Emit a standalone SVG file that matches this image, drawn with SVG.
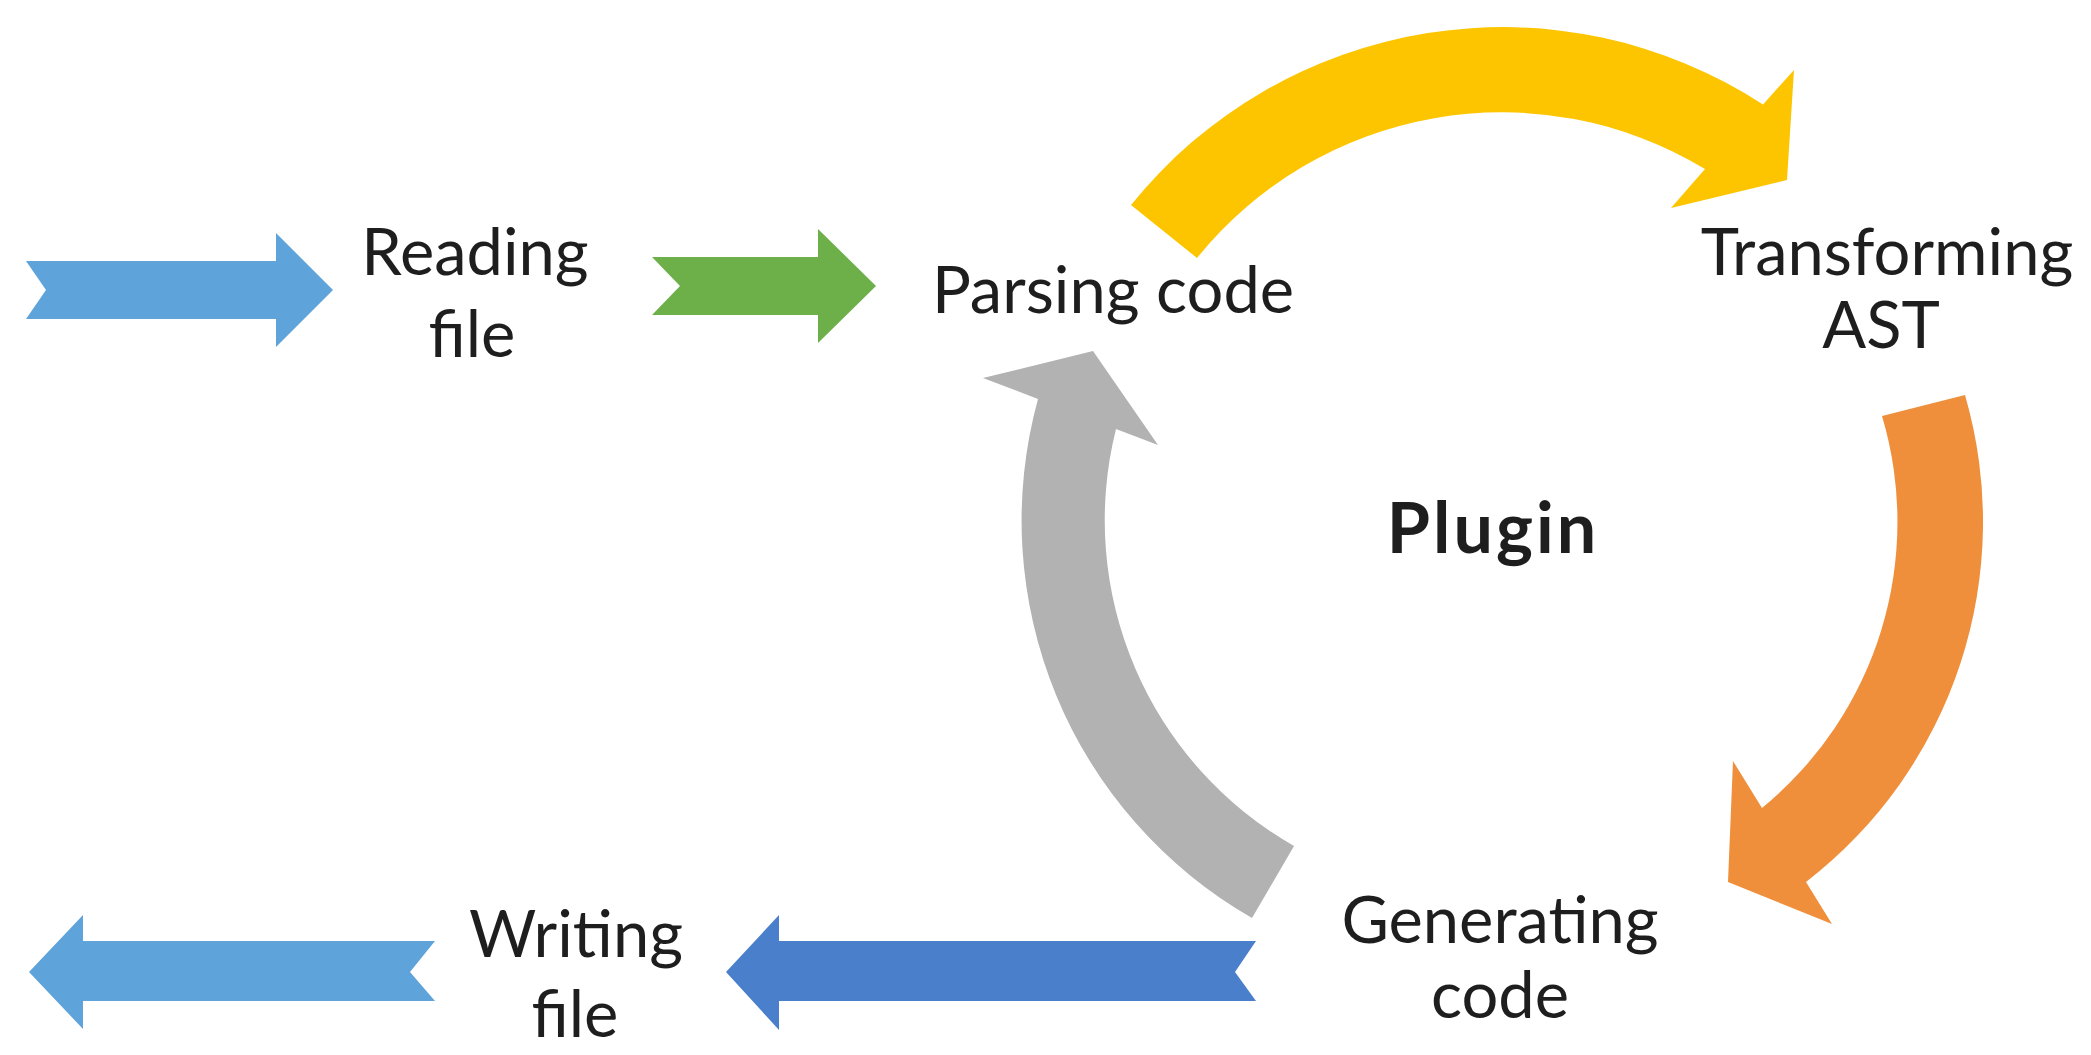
<svg xmlns="http://www.w3.org/2000/svg" width="2091" height="1055" viewBox="0 0 2091 1055">
<style>
text{font-family:Lato,"Liberation Sans",sans-serif;font-size:65px;fill:#1e1e1e;text-anchor:middle}
.b{font-weight:bold;font-size:70px;letter-spacing:3px}
</style>
<rect width="2091" height="1055" fill="#ffffff"/>
<g id="connectors">
<polygon id="in-arrow" fill="#5FA3DB" points="26,261 276,261 276,233 333,290 276,347 276,319 26,319 46,290"/>
<polygon id="read-to-parse" fill="#6DAF48" points="652,257 818,257 818,229 876,286 818,343 818,315 652,315 680,286"/>
<path id="parse-to-transform" fill="#FDC500" d="M1131,205 A477,477 0 0 1 1763,104.5 L1794,70 L1787,180 L1671,208 L1705,169 A392,392 0 0 0 1197,258 Z"/>
<path id="transform-to-generate" fill="#EF8F3B" d="M1965,395 A455,455 0 0 1 1806,882 L1832,924 L1728,882 L1733,761 L1762,808 A370,370 0 0 0 1882,416 Z"/>
<path id="generate-to-parse" fill="#B2B2B2" d="M1252,918 A458,458 0 0 1 1038,399 L983,378 L1093,351 L1158,445 L1116,429 A375,375 0 0 0 1294,846 Z"/>
<polygon id="generate-to-write" fill="#4A7FCB" points="726,972 779,915 779,941 1256,941 1235,972 1256,1001 779,1001 779,1030"/>
<polygon id="out-arrow" fill="#5FA3DB" points="29,972 83,915 83,941 435,941 410,972 435,1001 83,1001 83,1029"/>
</g>
<g id="reading-file"><text x="475" y="275">Reading</text><text x="472" y="357">file</text></g>
<g id="parsing-code"><text x="1113" y="313">Parsing code</text></g>
<g id="transforming-ast"><text x="1887" y="275">Transforming</text><text x="1881" y="348">AST</text></g>
<g id="plugin"><text class="b" x="1493" y="553">Plugin</text></g>
<g id="generating-code"><text x="1500" y="943">Generating</text><text x="1500" y="1018">code</text></g>
<g id="writing-file"><text x="576" y="957">Writing</text><text x="575" y="1037">file</text></g>
</svg>
